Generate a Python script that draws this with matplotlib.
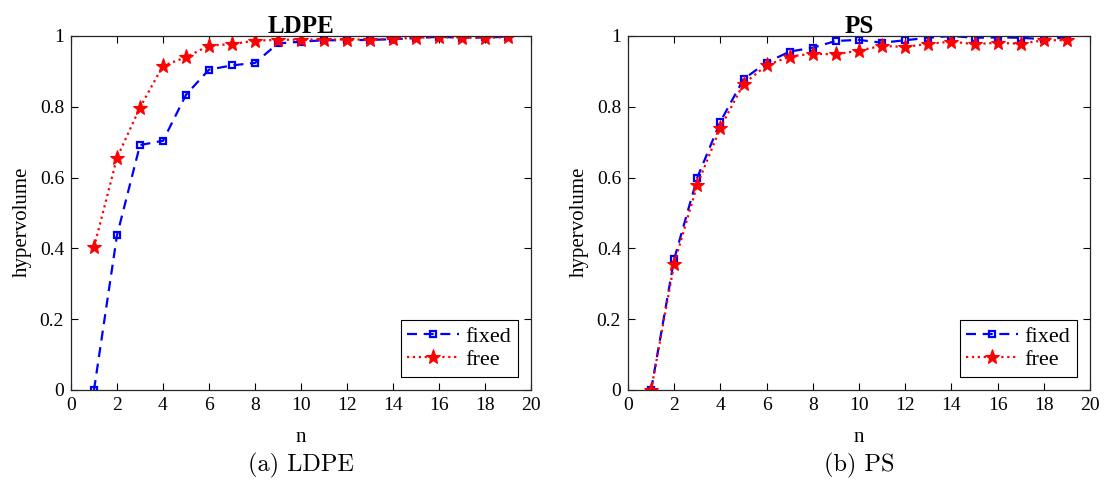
import matplotlib
matplotlib.use("Agg")
from matplotlib import pyplot as plt
import numpy as np

# Hypervolume per iteration, fixed vs. free formulation
n = np.arange(1, 20)

ldpe_fixed = [0.0, 0.437, 0.692, 0.704, 0.834, 0.905, 0.917, 0.924, 0.979, 0.984,
              0.988, 0.988, 0.989, 0.991, 0.994, 0.998, 0.995, 0.996, 0.998]
ldpe_free = [0.403, 0.656, 0.798, 0.916, 0.940, 0.973, 0.977, 0.987, 0.989, 0.990,
             0.990, 0.990, 0.990, 0.992, 0.995, 0.997, 0.995, 0.995, 0.997]

ps_fixed = [0.0, 0.370, 0.600, 0.758, 0.878, 0.925, 0.956, 0.967, 0.986, 0.989,
            0.981, 0.988, 0.995, 1.000, 0.995, 0.996, 0.995, 0.991, 0.996]
ps_free = [0.0, 0.357, 0.580, 0.741, 0.865, 0.917, 0.942, 0.950, 0.948, 0.959,
           0.972, 0.969, 0.978, 0.984, 0.977, 0.981, 0.978, 0.988, 0.988]

panels = [("LDPE", "(a) LDPE", ldpe_fixed, ldpe_free),
          ("PS", "(b) PS", ps_fixed, ps_free)]

serif = ["Liberation Serif", "DejaVu Serif"]
plt.rcParams["font.family"] = serif

fig = plt.figure(figsize=(11.06, 4.84), dpi=100)
W, H = 1106, 484
boxes = [(71, 36, 531, 390), (628, 36, 1090, 390)]

for (x0, y0, x1, y1), (title, caption, fixed, free) in zip(boxes, panels):
    ax = fig.add_axes([x0 / W, 1 - y1 / H, (x1 - x0) / W, (y1 - y0) / H])
    ax.plot(n, fixed, "--s", color="#0000ff", lw=1.6, ms=5,
            mfc="none", mew=1.6, label="fixed", dashes=(4.5, 3))
    ax.plot(n, free, ":*", color="#ff0000", lw=1.6, ms=11,
            mfc="#ff0000", mew=0.8, label="free")
    ax.set_xlim(0, 20)
    ax.set_ylim(0, 1)
    ax.set_xticks(np.arange(0, 21, 2))
    ax.set_yticks(np.arange(0, 1.01, 0.2))
    ax.set_yticklabels(["0", "0.2", "0.4", "0.6", "0.8", "1"])
    ax.tick_params(direction="in", top=True, right=True, labelsize=14,
                   length=5, width=0.8, pad=5)
    for s in ax.spines.values():
        s.set_linewidth(0.9)
        s.set_color("#262626")
    ax.set_title(title, fontsize=18, fontweight="bold", pad=2)
    ax.set_xlabel("n", fontsize=15, labelpad=10)
    ax.set_ylabel("hypervolume", fontsize=15)
    ax.yaxis.set_label_coords(-0.085, 0.475)
    leg = ax.legend(loc="lower right", fontsize=16, fancybox=False,
                    edgecolor="black", framealpha=1, handlelength=2.3,
                    borderpad=0.3, labelspacing=0.1, handletextpad=0.3,
                    borderaxespad=0.6)
    leg.get_frame().set_linewidth(0.8)
    fig.text((x0 + x1) / 2 / W, 1 - 465 / H, caption, ha="center", va="center",
             fontsize=17.5, family=["cmr10", "DejaVu Serif"])

fig.savefig("out.png", dpi=100)
